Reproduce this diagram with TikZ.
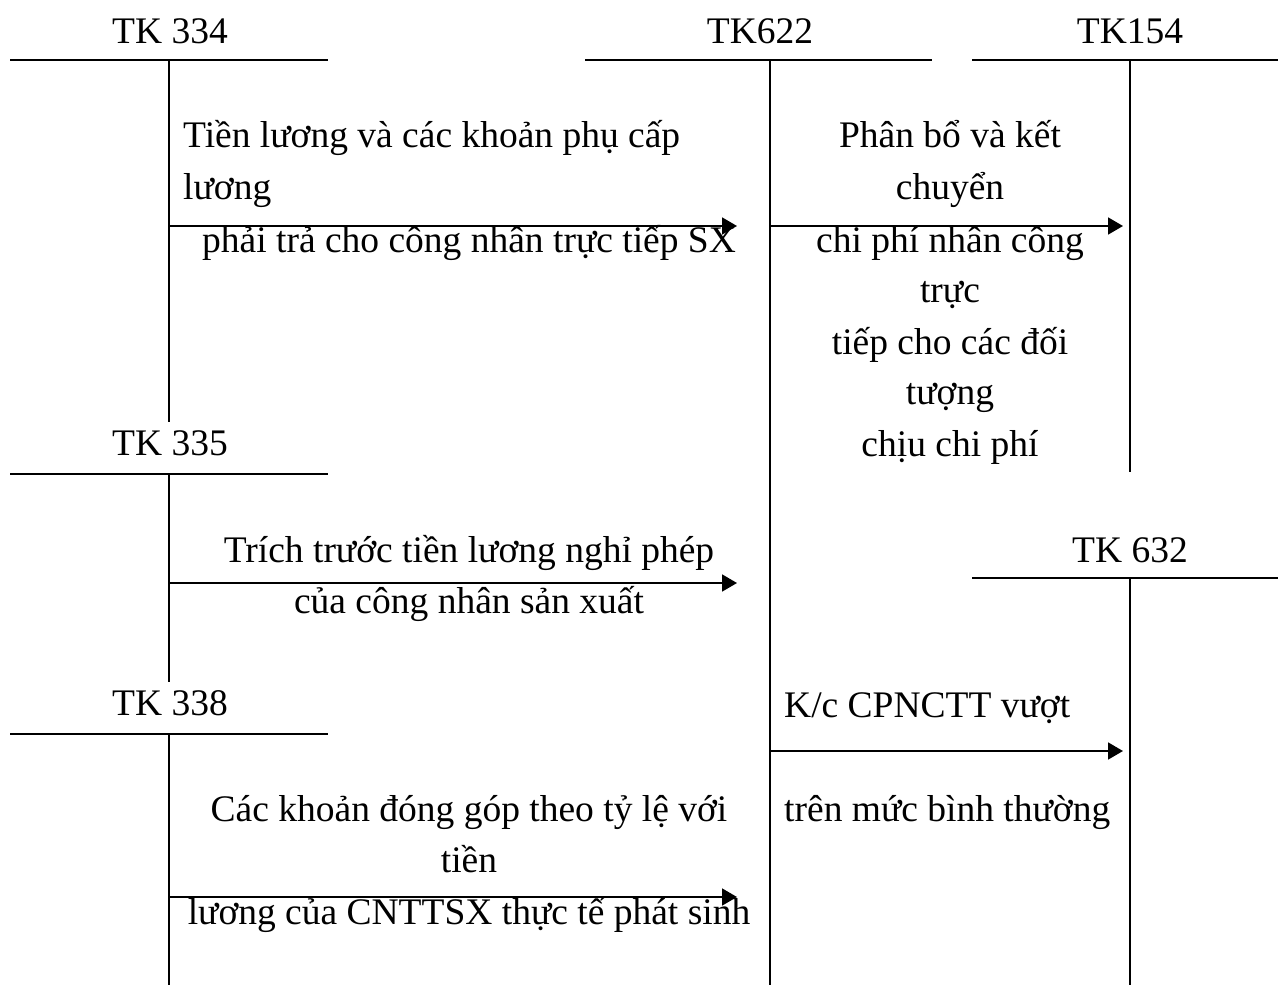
\documentclass[tikz,border=0pt]{standalone}
\usepackage{fontspec}
\setmainfont{Liberation Serif}
\usetikzlibrary{arrows.meta}
\begin{document}
\begin{tikzpicture}[x=1pt,y=-1pt,
  acc/.style={line width=2.4pt},
  arr/.style={line width=1.8pt,-{Triangle[length=15pt,width=17pt]}},
  lbl/.style={font=\fontsize{37.5}{52}\selectfont,inner sep=0pt,anchor=base},
  lbll/.style={lbl,anchor=base west}]
\useasboundingbox (0,0) rectangle (1278,985);
% T-account coordinates
\coordinate (a334l) at (10,60);  \coordinate (a334r) at (328,60);
\coordinate (a334t) at (169,60); \coordinate (a334b) at (169,422);
\coordinate (a622l) at (585,60); \coordinate (a622r) at (932,60);
\coordinate (a622t) at (770,60); \coordinate (a622b) at (770,985);
\coordinate (a154l) at (972,60); \coordinate (a154r) at (1278,60);
\coordinate (a154t) at (1130,60); \coordinate (a154b) at (1130,472);
\coordinate (a335l) at (10,474); \coordinate (a335r) at (328,474);
\coordinate (a335t) at (169,474); \coordinate (a335b) at (169,682);
\coordinate (a632l) at (972,578); \coordinate (a632r) at (1278,578);
\coordinate (a632t) at (1130,578); \coordinate (a632b) at (1130,985);
\coordinate (a338l) at (10,734); \coordinate (a338r) at (328,734);
\coordinate (a338t) at (169,734); \coordinate (a338b) at (169,985);
% titles
\node[lbl] (t334) at (170,43) {TK 334};
\node[lbl] (t622) at (760,43) {TK622};
\node[lbl] (t154) at (1130,43) {TK154};
\node[lbl] (t335) at (170,455) {TK 335};
\node[lbl] (t632) at (1130,562) {TK 632};
\node[lbl] (t338) at (170,715) {TK 338};
% accounts
\foreach \n in {334,622,154,335,632,338}{
  \draw[acc] (a\n l) -- (a\n r);
  \draw[acc] (a\n t) -- (a\n b);
}
% arrows
\coordinate (s1) at (169,226); \coordinate (e1) at (737,226);
\coordinate (s2) at (770,226); \coordinate (e2) at (1123,226);
\coordinate (s3) at (169,583); \coordinate (e3) at (737,583);
\coordinate (s4) at (770,751); \coordinate (e4) at (1123,751);
\coordinate (s5) at (169,897); \coordinate (e5) at (737,897);
\draw[arr] (s1) -- (e1);
\draw[arr] (s2) -- (e2);
\draw[arr] (s3) -- (e3);
\draw[arr] (s4) -- (e4);
\draw[arr] (s5) -- (e5);
% labels arrow 1
\node[lbll] (l1a) at (183,147) {Tiền lương và các khoản phụ cấp};
\node[lbll] (l1b) at (183,199) {lương};
\node[lbl] (l1c) at (469,252) {phải trả cho công nhân trực tiếp SX};
% labels arrow 2
\node[lbl] (l2a) at (950,147) {Phân bổ và kết};
\node[lbl] (l2b) at (950,199) {chuyển};
\node[lbl] (l2c) at (950,252) {chi phí nhân công};
\node[lbl] (l2d) at (950,302) {trực};
\node[lbl] (l2e) at (950,354) {tiếp cho các đối};
\node[lbl] (l2f) at (950,404) {tượng};
\node[lbl] (l2g) at (950,456) {chịu chi phí};
% labels arrow 3
\node[lbl] (l3a) at (469,562) {Trích trước tiền lương nghỉ phép};
\node[lbl] (l3b) at (469,613) {của công nhân sản xuất};
% labels arrow 4
\node[lbll] (l4a) at (784,717) {K/c CPNCTT vượt};
\node[lbll] (l4b) at (784,821) {trên mức bình thường};
% labels arrow 5
\node[lbl] (l5a) at (469,821) {Các khoản đóng góp theo tỷ lệ với};
\node[lbl] (l5b) at (469,872) {tiền};
\node[lbl] (l5c) at (469,924) {lương của CNTTSX thực tế phát sinh};
\end{tikzpicture}
\end{document}
